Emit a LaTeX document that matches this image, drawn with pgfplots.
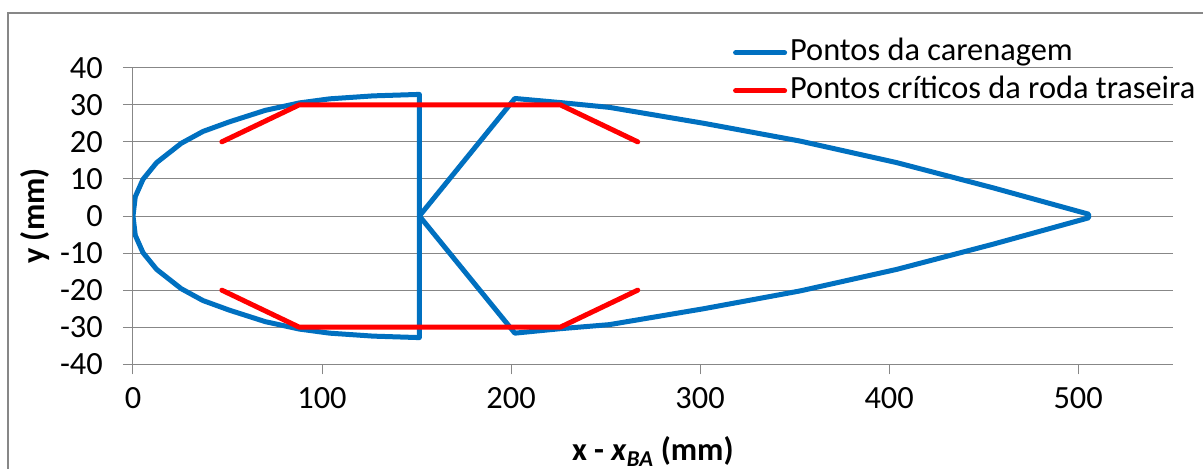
\documentclass[border=0pt]{standalone}
\usepackage{pgfplots}
\pgfplotsset{compat=1.18}
\usepackage{fontspec}
\setmainfont{Carlito}
\definecolor{exblue}{HTML}{0070C0}
\definecolor{exred}{HTML}{FF0000}
\definecolor{exgrid}{HTML}{878787}
\begin{document}
\begin{tikzpicture}
\useasboundingbox (-133bp,-104.7bp) rectangle (1070bp,364.3bp);
\draw[exgrid, line width=1.2bp] (-125bp,-104.7bp) -- (-125bp,351.3bp) -- (1070bp,351.3bp);
\begin{axis}[
  at={(0,0)}, anchor=south west,
  scale only axis, width=1039.7bp, height=296.6bp,
  xmin=0, xmax=550, ymin=-40, ymax=40,
  xtick={0,100,...,500}, ytick={-40,-30,...,40},
  axis x line*=bottom, axis y line*=left,
  axis line style={exgrid, line width=1bp, -},
  ymajorgrids, grid style={exgrid, line width=1bp},
  tick align=outside, major tick length=10bp,
  tick style={exgrid, line width=1bp},
  font=\fontsize{32.5}{39}\selectfont,
  /pgf/number format/assume math mode=true,
  yticklabel style={anchor=east, inner sep=0pt, xshift=-20bp},
  xticklabel style={anchor=north, inner sep=0pt, yshift=-13bp},
  xlabel={\textbf{x - \textit{x}\textsubscript{\textit{BA}} (mm)}},
  ylabel={\textbf{y (mm)}},
  xlabel style={at={(axis description cs:0.5,0)}, anchor=base, yshift=-95.7bp},
  ylabel style={at={(axis description cs:0,0.5)}, anchor=base, yshift=88bp},
  unbounded coords=jump,
  legend cell align=left,
  legend image code/.code={\draw (0bp,0bp) -- (49bp,0bp);},
  legend style={draw=none, fill=none, at={(axis description cs:0.577,1.1035)}, anchor=north west,
    font=\fontsize{32.5}{39}\selectfont, inner sep=0pt, row sep=7bp,
    nodes={inner xsep=3bp, inner ysep=0pt, text height=23bp, text depth=8bp}},
]
\addplot[exblue, line width=5bp, line join=round, line cap=round] coordinates {
(151.5,0) (151.5,32.8) (127,32.4) (104,31.6) (88,30.5) (70,28.5) (51,25.4) (37,22.8)
(25.5,19.6) (12.5,14.4) (5.3,9.9) (1.2,5.2) (0,0)
(1.2,-5.2) (5.3,-9.9) (12.5,-14.4) (25.5,-19.6) (37,-22.8) (51,-25.4) (70,-28.5)
(88,-30.5) (104,-31.6) (127,-32.4) (151.5,-32.8) (151.5,0)
(202,31.7) (226,30.6) (252,29.3) (302,25.0) (353,20.2) (404,14.4) (455,7.6) (505.5,0.5)
(505.5,-0.5) (455,-7.6) (404,-14.4) (353,-20.2) (302,-25.0) (252,-29.3) (226,-30.4) (202,-31.6) (151.5,0)
};
\addlegendentry{Pontos da carenagem}
\addplot[exred, line width=5bp, line join=round, line cap=round] coordinates {
(47,20) (88,30) (226,30) (267,20) (nan,nan)
(47,-20) (88,-30) (226,-30) (267,-20)
};
\addlegendentry{Pontos críticos da roda traseira}
\end{axis}
\end{tikzpicture}
\end{document}
